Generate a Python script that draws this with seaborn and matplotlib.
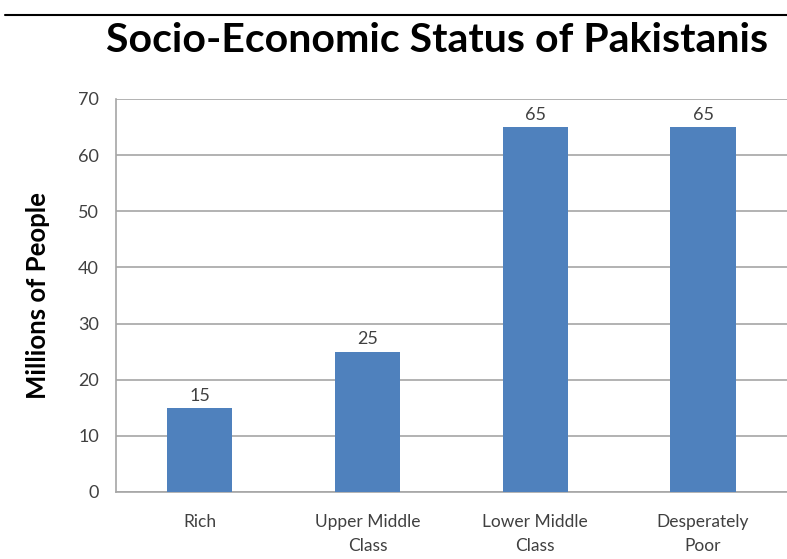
import matplotlib
matplotlib.use("Agg")
import matplotlib.pyplot as plt
import seaborn as sns
import pandas as pd
from matplotlib.lines import Line2D

categories = ["Rich", "Upper Middle\nClass", "Lower Middle\nClass", "Desperately\nPoor"]
millions = [15, 25, 65, 65]
y_ticks = [0, 10, 20, 30, 40, 50, 60, 70]

df = pd.DataFrame({"status": categories, "people": millions})

sns.set_theme(style="white")
plt.rcParams["font.family"] = ["Lato", "DejaVu Sans"]

fig = plt.figure(figsize=(7.87, 5.59), dpi=100)
ax = fig.add_axes([0.147, 0.120, 0.853, 0.703])

grid_col = "#a6a6a6"
sns.barplot(data=df, x="status", y="people", color="#4f81bd", width=0.39,
            saturation=1, linewidth=0, edgecolor="none", ax=ax, zorder=3)

ax.set_ylim(0, 70)
ax.set_xlim(-0.5, len(categories) - 0.5)
ax.set_yticks(y_ticks)
ax.yaxis.grid(True, color=grid_col, linewidth=1.2, zorder=0)
ax.set_axisbelow(True)

for sp in ["top", "right"]:
    ax.spines[sp].set_visible(False)
for sp in ["left", "bottom"]:
    ax.spines[sp].set_color(grid_col)
    ax.spines[sp].set_linewidth(1.2)

ax.tick_params(axis="y", length=8, width=1.2, color=grid_col, labelsize=13,
               labelcolor="#404040", pad=4)
ax.tick_params(axis="x", which="major", length=0, labelsize=12.5,
               labelcolor="#404040", pad=16)
for lbl in ax.get_xticklabels():
    lbl.set_linespacing(1.6)
ax.set_xticks([i - 0.5 for i in range(len(categories) + 1)], minor=True)
ax.tick_params(axis="x", which="minor", length=6, width=1.2, color=grid_col)

for c in ax.containers:
    ax.bar_label(c, fmt="%d", padding=3, fontsize=13, color="#404040")

ax.set_xlabel("")
ax.set_ylabel("Millions of People", fontsize=18.5, fontweight="bold", color="black",
              labelpad=20)

fig.text(0.555, 0.928, "Socio-Economic Status of Pakistanis", ha="center",
         va="center", fontsize=29.5, fontweight="bold", color="black")
fig.add_artist(Line2D([0.006, 1.0], [0.973, 0.973], color="black", linewidth=1.5,
                      transform=fig.transFigure))

fig.savefig("out.png", dpi=100)
